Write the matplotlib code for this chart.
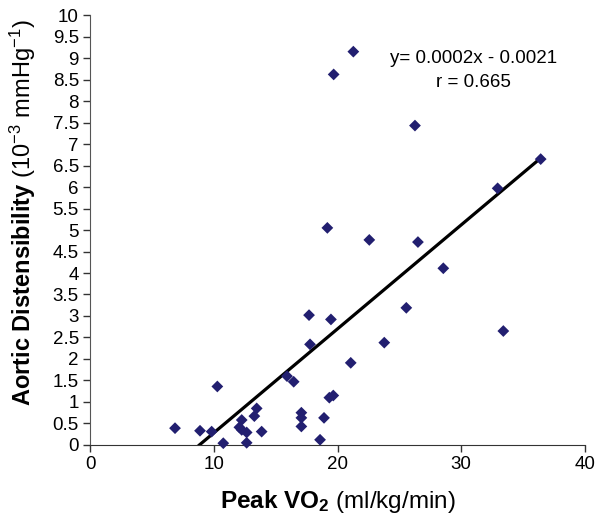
import matplotlib.pyplot as plt
import numpy as np

# peak VO2 (ml/kg/min) vs aortic distensibility (10^-3 mmHg^-1)
peak_vo2 = [6.87, 8.89, 9.83, 10.29, 10.77, 12.07, 12.26, 12.26, 12.66, 12.66,
            13.28, 13.47, 13.87, 15.92, 16.46, 17.08, 17.08, 17.08, 17.70, 17.78,
            18.59, 18.91, 19.18, 19.34, 19.47, 19.66, 19.69, 21.07, 21.28, 22.57,
            23.78, 25.56, 26.26, 26.50, 28.55, 32.94, 33.40, 36.42]
distensibility = [0.39, 0.33, 0.31, 1.36, 0.04, 0.41, 0.35, 0.58, 0.29, 0.05,
                  0.67, 0.85, 0.31, 1.60, 1.47, 0.75, 0.63, 0.43, 3.02, 2.34,
                  0.12, 0.63, 5.05, 1.10, 2.92, 1.15, 8.62, 1.91, 9.15, 4.77,
                  2.38, 3.19, 7.43, 4.72, 4.11, 5.97, 2.65, 6.65]

# regression line as drawn in the figure
trend_slope = 0.242
trend_intercept = -2.14

x_ticks = [0, 10, 20, 30, 40]
y_ticks = [i * 0.5 for i in range(21)]
y_tick_labels = ['%g' % v for v in y_ticks]

plt.rcParams['font.family'] = ['Liberation Sans', 'DejaVu Sans']
plt.rcParams['mathtext.fontset'] = 'custom'
plt.rcParams['mathtext.rm'] = 'Liberation Sans'
plt.rcParams['mathtext.it'] = 'Liberation Sans:italic'
plt.rcParams['mathtext.bf'] = 'Liberation Sans:bold'

fig = plt.figure(figsize=(6.0, 5.21), dpi=100)
ax = fig.add_axes([0.15, 0.146, 0.825, 0.825])

ax.scatter(peak_vo2, distensibility, marker='D', s=36, color='#221f70',
           edgecolors='none', zorder=3, clip_on=False)

x_start = -trend_intercept / trend_slope
x_end = max(peak_vo2)
line_x = np.array([x_start, x_end])
ax.plot(line_x, trend_slope * line_x + trend_intercept, color='black',
        linewidth=2.3, zorder=2)

ax.set_xlim(0, 40)
ax.set_ylim(0, 10)
ax.set_xticks(x_ticks)
ax.set_yticks(y_ticks)
ax.set_yticklabels(y_tick_labels)
ax.tick_params(direction='out', length=5, width=1, labelsize=13.5, pad=3,
               color='#333333')

for side in ['top', 'right']:
    ax.spines[side].set_visible(False)
ax.spines['left'].set_color('#555555')
ax.spines['bottom'].set_color('#333333')

ax.set_xlabel(r'$\bf{Peak\ VO_2}$ (ml/kg/min)', fontsize=17.5)
ax.set_ylabel(r'$\bf{Aortic\ Distensibility}$ (10$^{-3}$ mmHg$^{-1}$)',
              fontsize=17)
ax.xaxis.set_label_coords(0.5, -0.1)
ax.yaxis.set_label_coords(-0.105, 0.54)

ax.text(0.775, 0.90, 'y= 0.0002x - 0.0021', transform=ax.transAxes,
        ha='center', va='center', fontsize=13.5)
ax.text(0.775, 0.843, 'r = 0.665', transform=ax.transAxes,
        ha='center', va='center', fontsize=13.5)

fig.savefig('out.png', dpi=100)
